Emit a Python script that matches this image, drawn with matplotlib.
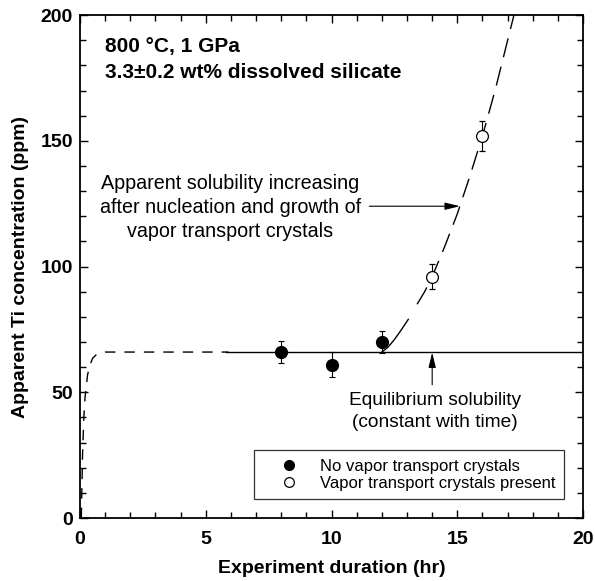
import matplotlib.pyplot as plt
from matplotlib.lines import Line2D

plt.rcParams['font.family'] = ['Liberation Sans', 'DejaVu Sans']

# measured Ti concentrations
no_vapor_hr = [8, 10, 12]
no_vapor_ppm = [66, 61, 70]
no_vapor_err = [4.5, 5, 4.5]

vapor_hr = [14, 16]
vapor_ppm = [96, 152]
vapor_err = [5, 6]

# equilibrium solubility (ppm) and approach curve at early times
equil_ppm = 66
approach_hr = [0.05, 0.1, 0.15, 0.2, 0.3, 0.4, 0.5, 0.65, 0.8, 1.0, 1.2, 5.9]
approach_ppm = [0, 25, 40, 48, 57, 61, 63.5, 65, 65.6, 66, 66, 66]

# apparent solubility growth after vapor transport crystals nucleate
growth_solid_hr = [12, 12.25, 12.5, 12.75, 13.05]
growth_solid_ppm = [66, 68, 71, 74.5, 79]
growth_dash_hr = [13.4, 13.7, 14, 14.5, 15, 15.5, 16, 16.5, 17, 17.3]
growth_dash_ppm = [85, 90, 96, 108, 121, 136, 152, 170, 190, 202]

fig = plt.figure(figsize=(5.95, 5.81), dpi=100)
ax = fig.add_axes([0.1345, 0.1084, 0.8455, 0.8656])

ax.plot(approach_hr, approach_ppm, color='black', lw=1,
        linestyle=(0, (7.5, 6.5)))
ax.plot([5.8, 20], [equil_ppm, equil_ppm], color='black', lw=1)
ax.plot(growth_solid_hr, growth_solid_ppm, color='black', lw=1)
ax.plot(growth_dash_hr, growth_dash_ppm, color='black', lw=1,
        linestyle=(0, (14, 7)))

ax.errorbar(no_vapor_hr, no_vapor_ppm, yerr=no_vapor_err, fmt='o',
            color='black', mfc='black', mec='black', ms=8.5,
            elinewidth=0.8, capsize=2.5, capthick=0.8, zorder=5)
ax.errorbar(vapor_hr, vapor_ppm, yerr=vapor_err, fmt='o',
            color='black', mfc='white', mec='black', ms=8.5, mew=0.9,
            elinewidth=0.8, capsize=2.5, capthick=0.8, zorder=5)

ax.set_xlim(0, 20)
ax.set_ylim(0, 200)
ax.set_xticks([0, 5, 10, 15, 20])
ax.set_yticks([0, 50, 100, 150, 200])
ax.set_xticks(range(0, 21), minor=True)
ax.set_yticks(range(0, 201, 10), minor=True)
ax.tick_params(which='both', direction='in', top=True, right=True,
               width=1)
ax.tick_params(which='major', length=6, labelsize=14)
ax.tick_params(axis='x', which='major', pad=9)
ax.tick_params(axis='y', which='major', pad=5)
ax.tick_params(which='minor', length=4)
for lab in ax.get_xticklabels() + ax.get_yticklabels():
    lab.set_fontweight('bold')
for sp in ax.spines.values():
    sp.set_linewidth(1.3)

ax.set_xlabel('Experiment duration (hr)', fontsize=14,
              fontweight='bold', labelpad=9)
ax.set_ylabel('Apparent Ti concentration (ppm)', fontsize=14,
              fontweight='bold', labelpad=8)

ax.text(1.0, 182.5, '800 \u00b0C, 1 GPa\n3.3\u00b10.2 wt% dissolved silicate',
        fontsize=15, fontweight='bold', va='center', ha='left',
        linespacing=1.47)

ax.text(5.97, 123.5, 'Apparent solubility increasing\n'
        'after nucleation and growth of\nvapor transport crystals',
        fontsize=14.2, ha='center', va='center', linespacing=1.33)
ax.annotate('', xy=(15.1, 124), xytext=(11.5, 124),
            arrowprops=dict(arrowstyle='-|>,head_length=0.9,head_width=0.22',
                            color='black', lw=0.8, shrinkA=0, shrinkB=0))

ax.text(14.1, 42.5, 'Equilibrium solubility\n(constant with time)',
        fontsize=13.8, ha='center', va='center', linespacing=1.4)
ax.annotate('', xy=(14, 65.8), xytext=(14, 53),
            arrowprops=dict(arrowstyle='-|>,head_length=0.9,head_width=0.22',
                            color='black', lw=0.8, shrinkA=0, shrinkB=0))

handles = [
    Line2D([], [], marker='o', ls='none', color='black', mfc='black', ms=7),
    Line2D([], [], marker='o', ls='none', color='black', mfc='white', ms=7,
           mew=0.9),
]
leg = ax.legend(handles, ['No vapor transport crystals',
                          'Vapor transport crystals present'],
                loc='lower right', bbox_to_anchor=(0.9625, 0.0375),
                fontsize=12, frameon=True, fancybox=False, handletextpad=0.3,
                borderpad=0.5, labelspacing=0.12, handlelength=3.2,
                borderaxespad=0)
leg.get_frame().set_edgecolor('black')
leg.get_frame().set_linewidth(0.9)

fig.savefig('out.png', dpi=100)
